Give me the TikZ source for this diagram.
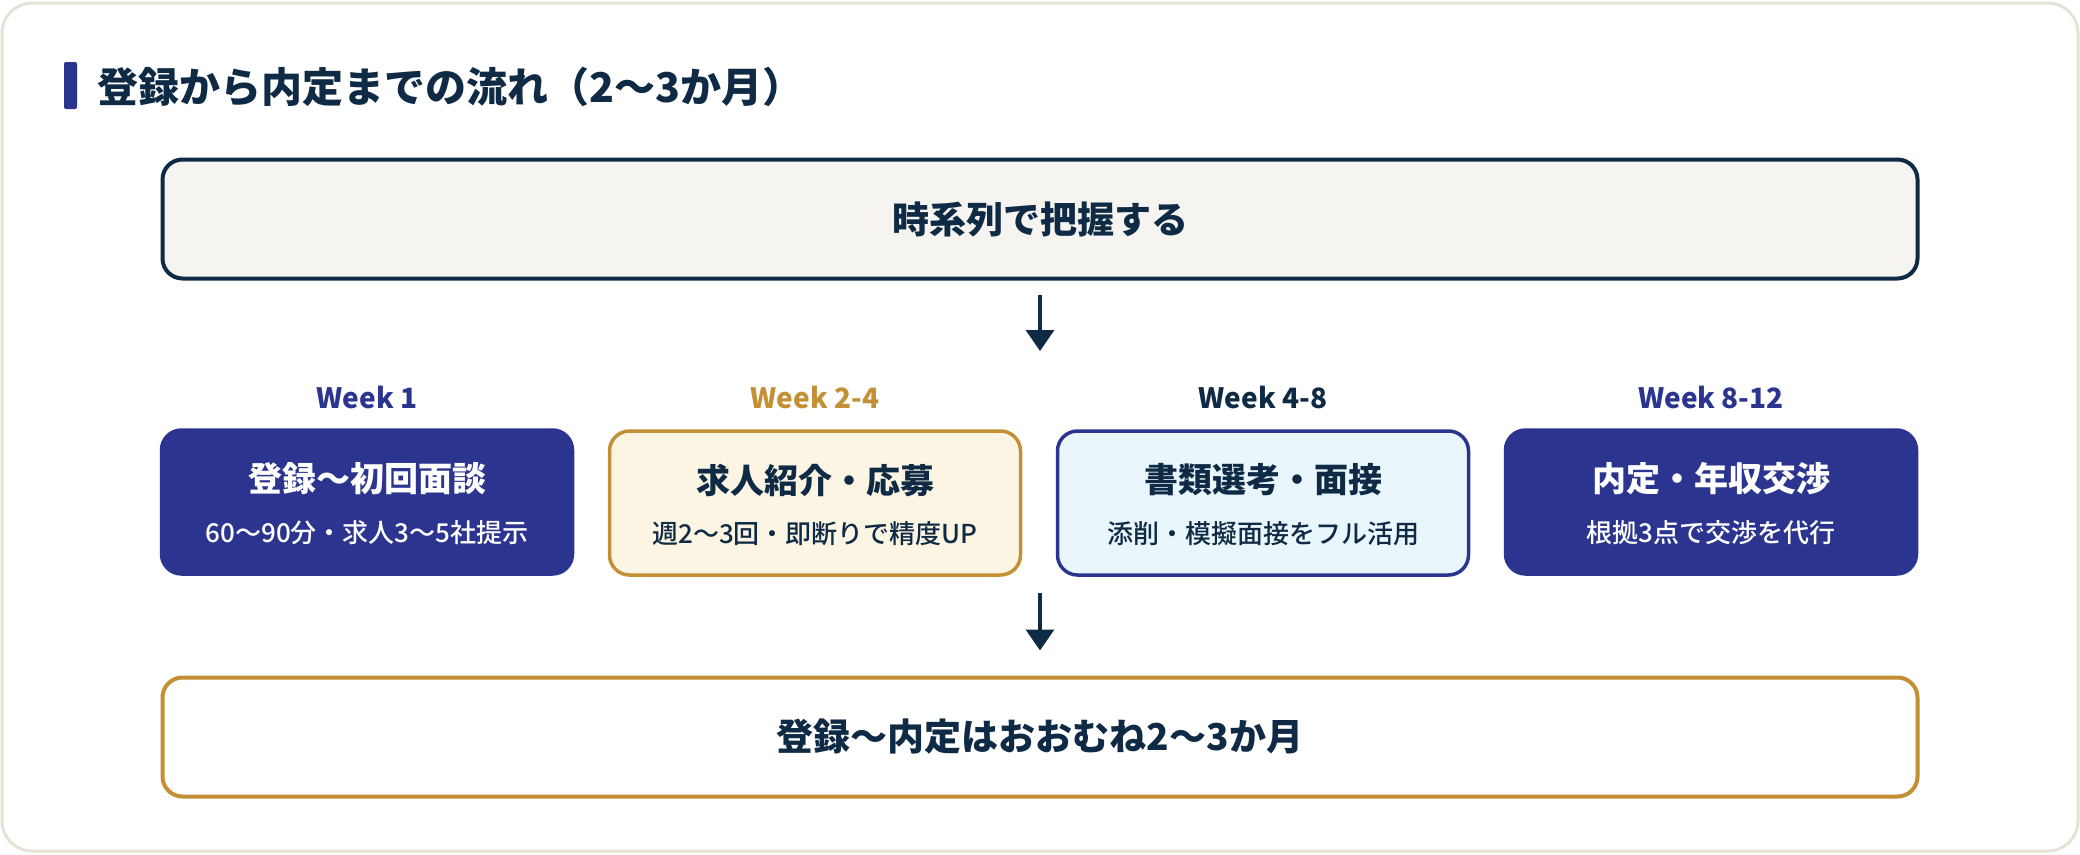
\documentclass[tikz,border=0pt]{standalone}
\usepackage{fontspec}
\setmainfont{Noto Sans CJK JP}
\newfontfamily\medfont{Noto Sans CJK JP Medium}
\usetikzlibrary{arrows.meta}
\definecolor{navy}{HTML}{0F2A44}
\definecolor{royal}{HTML}{2B3590}
\definecolor{gold}{HTML}{C49035}
\definecolor{cream}{HTML}{FDF5E4}
\definecolor{ice}{HTML}{E9F7FC}
\definecolor{paper}{HTML}{F5F4F0}
\definecolor{cardline}{HTML}{E6E3D6}
\tikzset{
  wide/.style={rectangle, rounded corners=20pt, inner sep=0pt, line width=4pt,
    minimum width=1755pt, minimum height=119pt, text=navy,
    font=\fontsize{37}{44}\selectfont\bfseries},
  phase/.style={rectangle, rounded corners=20pt, inner sep=0pt, line width=3.5pt,
    minimum width=411pt, minimum height=144pt},
  week/.style={font=\fontsize{28}{34}\selectfont\bfseries, inner sep=0pt},
  ptitle/.style={font=\fontsize{34}{40}\selectfont\bfseries, inner sep=0pt},
  psub/.style={font=\fontsize{26}{32}\selectfont\medfont, inner sep=0pt},
  flow/.style={navy, line width=3.5pt, -{Triangle[length=21pt,width=28pt]}},
}
\begin{document}
\begin{tikzpicture}[x=1pt,y=-1pt]
\useasboundingbox (0,0) rectangle (2080,854);
\fill[white] (0,0) rectangle (2080,854);
\draw[cardline, line width=3pt, fill=white, rounded corners=30pt] (2,3) rectangle (2078,851);

% title
\fill[royal, rounded corners=2pt] (64,62) rectangle (77,109);
\node[anchor=west, inner sep=0pt, text=navy, font=\fontsize{41}{48}\selectfont\bfseries] (title) at (97,87) {登録から内定までの流れ（2〜3か月）};

% top box
\node[wide, draw=navy, fill=paper] (top) at (1040,219) {時系列で把握する};
\coordinate (a1e) at (1040,351);
\draw[flow, shorten <=14pt] (top.south) -- (a1e);

% week labels
\node[week, text=royal] (w1) at (367,398) {Week 1};
\node[week, text=gold] (w2) at (815,398) {Week 2-4};
\node[week, text=navy] (w3) at (1263,398) {Week 4-8};
\node[week, text=royal] (w4) at (1711,398) {Week 8-12};

% phase boxes
\node[phase, draw=royal, fill=royal] (b1) at (367,502) {};
\node[phase, draw=gold, fill=cream] (b2) at (815,503) {};
\node[phase, draw=royal, fill=ice] (b3) at (1263,503) {};
\node[phase, draw=royal, fill=royal] (b4) at (1711,502) {};

\node[ptitle, text=white] (t1) at ([yshift=23pt]b1.center) {登録〜初回面談};
\node[psub, text=white] (s1) at ([yshift=-31pt]b1.center) {60〜90分・求人3〜5社提示};
\node[ptitle, text=navy] (t2) at ([yshift=23pt]b2.center) {求人紹介・応募};
\node[psub, text=navy] (s2) at ([yshift=-31pt]b2.center) {週2〜3回・即断りで精度UP};
\node[ptitle, text=navy] (t3) at ([yshift=23pt]b3.center) {書類選考・面接};
\node[psub, text=navy] (s3) at ([yshift=-31pt]b3.center) {添削・模擬面接をフル活用};
\node[ptitle, text=white] (t4) at ([yshift=23pt]b4.center) {内定・年収交渉};
\node[psub, text=white] (s4) at ([yshift=-31pt]b4.center) {根拠3点で交渉を代行};

% bottom box
\node[wide, draw=gold, fill=white] (bot) at (1040,737) {登録〜内定はおおむね2〜3か月};
\coordinate (a2s) at (1040,593);
\draw[flow, shorten >=25pt] (a2s) -- (bot.north);
\end{tikzpicture}
\end{document}
